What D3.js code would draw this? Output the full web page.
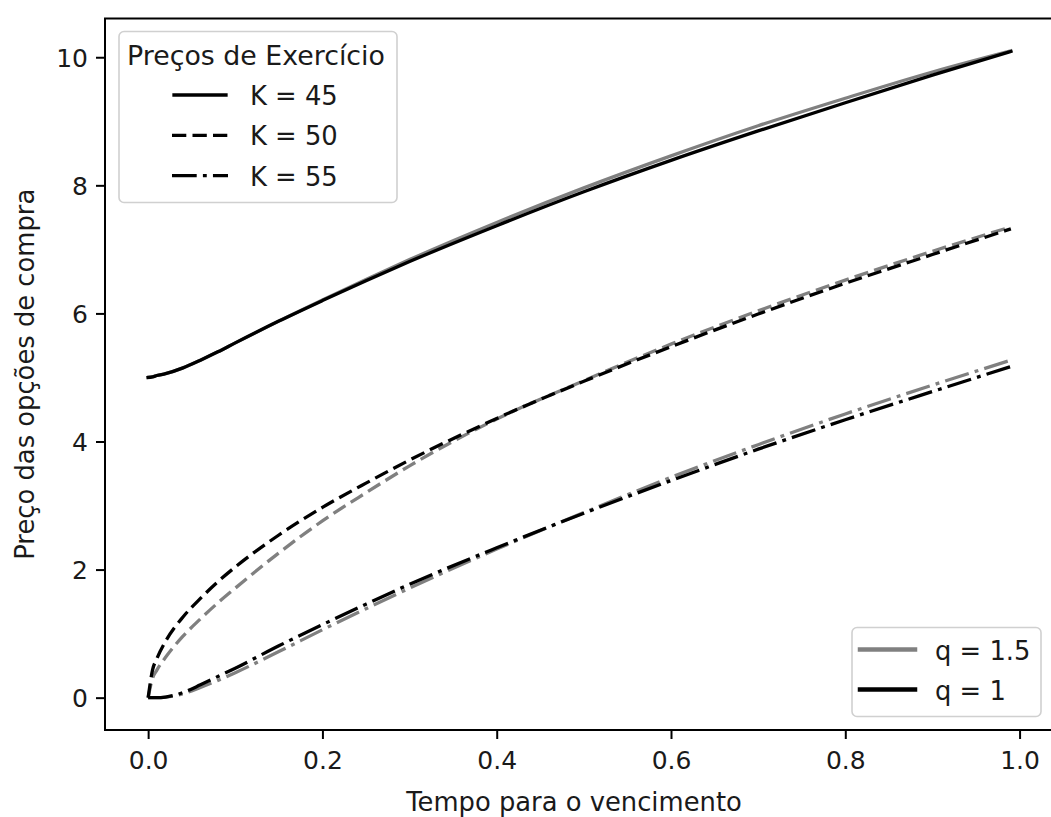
<!DOCTYPE html>
<html>
<head>
<meta charset="utf-8">
<script src="https://cdn.jsdelivr.net/npm/d3@7"></script>
<style>
  html, body { margin: 0; padding: 0; background: #fff; }
  svg { display: block; }
  text { font-family: "DejaVu Sans", sans-serif; fill: #1a1a1a; }
</style>
</head>
<body>
<svg id="chart" width="1051" height="817"></svg>
<script>
// Time to maturity (years)
const tempo = [0, 0.005, 0.01, 0.02, 0.04, 0.06, 0.08, 0.1, 0.15, 0.2, 0.25, 0.3, 0.4, 0.5, 0.6, 0.7, 0.8, 0.9, 0.99];

// Call prices, q = 1
const k45_q1  = [5.00, 5.01, 5.03, 5.06, 5.15, 5.27, 5.40, 5.54, 5.88, 6.20, 6.51, 6.81, 7.37, 7.90, 8.39, 8.85, 9.29, 9.72, 10.09];
const k50_q1  = [0, 0.43, 0.61, 0.88, 1.26, 1.55, 1.81, 2.04, 2.54, 2.97, 3.35, 3.71, 4.36, 4.94, 5.48, 5.99, 6.47, 6.92, 7.32];
const k55_q1  = [0, 0, 0, 0.01, 0.08, 0.20, 0.33, 0.46, 0.81, 1.14, 1.46, 1.77, 2.34, 2.88, 3.39, 3.88, 4.34, 4.78, 5.17];

// Call prices, q = 1.5
const k45_q15 = [5.00, 5.01, 5.03, 5.06, 5.15, 5.27, 5.40, 5.54, 5.88, 6.21, 6.53, 6.84, 7.42, 7.96, 8.46, 8.93, 9.36, 9.77, 10.10];
const k50_q15 = [0, 0.30, 0.43, 0.63, 0.96, 1.23, 1.48, 1.71, 2.26, 2.76, 3.20, 3.62, 4.35, 4.95, 5.52, 6.04, 6.52, 6.97, 7.35];
const k55_q15 = [0, 0, 0, 0.01, 0.06, 0.16, 0.27, 0.39, 0.72, 1.06, 1.39, 1.71, 2.32, 2.89, 3.44, 3.95, 4.43, 4.88, 5.27];

const strikes = ["K = 45", "K = 50", "K = 55"];
const qLabels = ["q = 1.5", "q = 1"];
const xTicks = [0.0, 0.2, 0.4, 0.6, 0.8, 1.0];
const yTicks = [0, 2, 4, 6, 8, 10];

const LW = 3.3;
const dashStyles = {
  "K = 45": null,
  "K = 50": [14.3, 6.2],
  "K = 55": [24.7, 6.2, 3.85, 6.2]
};
const qColors = { "q = 1.5": "#808080", "q = 1": "#000000" };

const series = [
  { k: "K = 45", q: "q = 1.5", v: k45_q15 },
  { k: "K = 50", q: "q = 1.5", v: k50_q15 },
  { k: "K = 55", q: "q = 1.5", v: k55_q15 },
  { k: "K = 45", q: "q = 1",   v: k45_q1 },
  { k: "K = 50", q: "q = 1",   v: k50_q1 },
  { k: "K = 55", q: "q = 1",   v: k55_q1 }
];

const svg = d3.select("#chart");
const plot = { left: 105, right: 1054, top: 18.5, bottom: 730 };

// Axis limits with a 5% margin around the data
const xMin = d3.min(tempo), xMax = d3.max(tempo);
const allV = series.flatMap(s => s.v);
const yMin = d3.min(allV), yMax = d3.max(allV);
const xPad = (xMax - xMin) * 0.05, yPad = (yMax - yMin) * 0.05;

const x = d3.scaleLinear().domain([xMin - xPad, xMax + xPad]).range([plot.left, plot.right]);
const y = d3.scaleLinear().domain([yMin - yPad, yMax + yPad]).range([plot.bottom, plot.top]);

const line = d3.line()
  .x(d => x(d[0]))
  .y(d => y(d[1]))
  .curve(d3.curveMonotoneX);

// Curves
const gLines = svg.append("g");
series.forEach(s => {
  const dash = dashStyles[s.k];
  gLines.append("path")
    .datum(tempo.map((t, i) => [t, s.v[i]]))
    .attr("d", line)
    .attr("fill", "none")
    .attr("stroke", qColors[s.q])
    .attr("stroke-width", LW)
    .attr("stroke-linejoin", "round")
    .attr("stroke-linecap", dash ? "butt" : "square")
    .attr("stroke-dasharray", dash ? dash.join(",") : null);
});

// Axes
const xAxis = d3.axisBottom(x).tickValues(xTicks).tickFormat(d3.format(".1f")).tickSize(9).tickPadding(8);
const yAxis = d3.axisLeft(y).tickValues(yTicks).tickFormat(d3.format("d")).tickSize(9).tickPadding(8);

const gx = svg.append("g").attr("transform", `translate(0,${plot.bottom})`).call(xAxis);
const gy = svg.append("g").attr("transform", `translate(${plot.left},0)`).call(yAxis);
[gx, gy].forEach(g => {
  g.select(".domain").remove();
  g.selectAll(".tick line").attr("stroke", "#000").attr("stroke-width", 2);
  g.selectAll(".tick text").attr("font-size", 25).attr("fill", "#1a1a1a")
    .attr("font-family", "DejaVu Sans, sans-serif");
});
gx.selectAll(".tick text").attr("dy", null).attr("y", 39);
gy.selectAll(".tick text").attr("dy", "0.36em");

// Frame
svg.append("rect")
  .attr("x", plot.left).attr("y", plot.top)
  .attr("width", plot.right - plot.left).attr("height", plot.bottom - plot.top)
  .attr("fill", "none").attr("stroke", "#000").attr("stroke-width", 2);

// Axis titles
svg.append("text")
  .attr("x", 574).attr("y", 811)
  .attr("text-anchor", "middle").attr("font-size", 25.8)
  .text("Tempo para o vencimento");

svg.append("text")
  .attr("transform", `translate(34,${(plot.top + plot.bottom) / 2}) rotate(-90)`)
  .attr("text-anchor", "middle").attr("font-size", 25.8)
  .text("Preço das opções de compra");

// Legend: strike prices (upper left)
const leg1 = svg.append("g");
leg1.append("rect")
  .attr("x", 119).attr("y", 31.5).attr("width", 278).attr("height", 171)
  .attr("rx", 5).attr("fill", "#fff").attr("fill-opacity", 0.8)
  .attr("stroke", "#d0d0d0").attr("stroke-width", 1.6);
leg1.append("text")
  .attr("x", 256).attr("y", 65).attr("text-anchor", "middle").attr("font-size", 26.8)
  .text("Preços de Exercício");
strikes.forEach((k, i) => {
  const yy = 95 + i * 40.3;
  const dash = dashStyles[k];
  leg1.append("line")
    .attr("x1", dash ? 172 : 174).attr("x2", dash ? 228 : 226)
    .attr("y1", yy).attr("y2", yy)
    .attr("stroke", "#000").attr("stroke-width", LW)
    .attr("stroke-linecap", dash ? "butt" : "square")
    .attr("stroke-dasharray", dash ? dash.join(",") : null);
  leg1.append("text")
    .attr("x", 250).attr("y", yy + 10).attr("font-size", 25.8)
    .text(k);
});

// Legend: q parameter (lower right)
const leg2 = svg.append("g");
leg2.append("rect")
  .attr("x", 852).attr("y", 627.5).attr("width", 189).attr("height", 89)
  .attr("rx", 5).attr("fill", "#fff").attr("fill-opacity", 0.8)
  .attr("stroke", "#d0d0d0").attr("stroke-width", 1.6);
qLabels.forEach((q, i) => {
  const yy = 649.5 + i * 40;
  leg2.append("line")
    .attr("x1", 860).attr("x2", 915)
    .attr("y1", yy).attr("y2", yy)
    .attr("stroke", qColors[q]).attr("stroke-width", 4.5)
    .attr("stroke-linecap", "square");
  leg2.append("text")
    .attr("x", 935).attr("y", yy + 10.5).attr("font-size", 25.8)
    .text(q);
});
</script>
</body>
</html>
